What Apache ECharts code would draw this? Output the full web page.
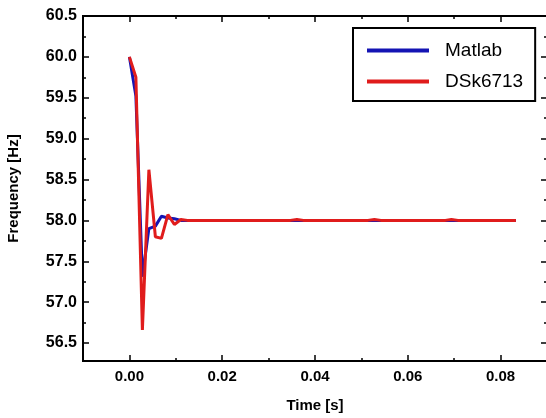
<!DOCTYPE html>
<html>
<head>
<meta charset="utf-8">
<script src="https://cdn.jsdelivr.net/npm/echarts@6/dist/echarts.min.js"></script>
<style>
html,body{margin:0;padding:0;background:#fff;}
#c{width:546px;height:418px;}
</style>
</head>
<body>
<div id="c"></div>
<script>
// ---- data ----
var times = [0, 0.0014, 0.0028, 0.0042, 0.0056, 0.0069, 0.0083, 0.0097, 0.0111, 0.0125, 0.0139,
             0.0347, 0.0361, 0.0375, 0.0514, 0.0528, 0.0542, 0.0681, 0.0694, 0.0708, 0.0833];
var matlab = [60.0, 59.52, 57.31, 57.90, 57.93, 58.05, 58.03, 58.02, 58.0, 58.0, 58.0,
              58.0, 58.0, 58.0, 58.0, 58.0, 58.0, 58.0, 58.0, 58.0, 58.0];
var dsk = [60.0, 59.75, 56.66, 58.62, 57.80, 57.78, 58.07, 57.95, 58.01, 58.0, 58.0,
           58.0, 58.012, 58.0, 58.0, 58.012, 58.0, 58.0, 58.012, 58.0, 58.0];
var seriesNames = ['Matlab', 'DSk6713'];
var xMajor = [0, 0.02, 0.04, 0.06, 0.08];
var xMinor = [-0.01, 0.01, 0.03, 0.05, 0.07, 0.09];
var yMajor = [56.5, 57.0, 57.5, 58.0, 58.5, 59.0, 59.5, 60.0, 60.5];
var yMinor = [56.75, 57.25, 57.75, 58.25, 58.75, 59.25, 59.75, 60.25];
var xRange = [-0.01, 0.09];
var yRange = [56.28, 60.5];

function pairs(xs, ys) { return xs.map(function (x, i) { return [x, ys[i]]; }); }

var font = 'Liberation Sans, Arial, sans-serif';
var axisLine = { show: true, onZero: false, lineStyle: { color: '#000', width: 2 } };
var noLine = { show: false, onZero: false };

function xAx(pos, ticks, len, labels, extra) {
  var o = {
    type: 'value', position: pos, min: xRange[0], max: xRange[1],
    axisLine: axisLine,
    splitLine: { show: false },
    axisTick: { show: true, inside: true, length: len, customValues: ticks, lineStyle: { color: '#000', width: 1.5 } },
    axisLabel: labels ? {
      show: true, customValues: xMajor, margin: 8, color: '#000', fontFamily: font, fontWeight: 'bold', fontSize: 15,
      formatter: function (v) { return v.toFixed(2); }
    } : { show: false }
  };
  for (var k in extra) o[k] = extra[k];
  return o;
}
function yAx(pos, ticks, len, labels, extra) {
  var o = {
    type: 'value', position: pos, min: yRange[0], max: yRange[1],
    axisLine: axisLine,
    splitLine: { show: false },
    axisTick: { show: true, inside: true, length: len, customValues: ticks, lineStyle: { color: '#000', width: 1.5 } },
    axisLabel: labels ? {
      show: true, customValues: yMajor, margin: 6, color: '#000', fontFamily: font, fontWeight: 'bold', fontSize: 16,
      formatter: function (v) { return v.toFixed(1); }
    } : { show: false }
  };
  for (var k in extra) o[k] = extra[k];
  return o;
}

var chart = echarts.init(document.getElementById('c'), null, { renderer: 'canvas' });
chart.setOption({
  animation: false,
  backgroundColor: '#fff',
  grid: { left: 83, top: 16, width: 464, height: 345, containLabel: false, outerBoundsMode: 'none' },
  legend: {
    orient: 'vertical', left: 353, top: 28,
    data: seriesNames,
    icon: 'rect', itemWidth: 62, itemHeight: 4, itemGap: 12,
    borderColor: '#000', borderWidth: 2, borderRadius: 0,
    padding: [13, 12, 10, 14],
    textStyle: { color: '#000', fontFamily: font, fontSize: 19, padding: [0, 0, 0, 11] }
  },
  xAxis: [
    xAx('bottom', xMajor, 6, true, {
      name: 'Time [s]', nameLocation: 'middle', nameGap: 37,
      nameTextStyle: { color: '#000', fontFamily: font, fontWeight: 'bold', fontSize: 15 }
    }),
    xAx('bottom', xMinor, 3, false, {}),
    xAx('top', xMajor, 6, false, {}),
    xAx('top', xMinor, 3, false, {})
  ],
  yAxis: [
    yAx('left', yMajor, 6, true, {
      name: 'Frequency [Hz]', nameLocation: 'middle', nameGap: 62, nameRotate: 90,
      nameTextStyle: { color: '#000', fontFamily: font, fontWeight: 'bold', fontSize: 15 }
    }),
    yAx('left', yMinor, 3, false, {}),
    yAx('right', yMajor, 6, false, { axisLine: noLine }),
    yAx('right', yMinor, 3, false, { axisLine: noLine })
  ],
  series: [
    {
      name: seriesNames[0], type: 'line', data: pairs(times, matlab),
      xAxisIndex: 0, yAxisIndex: 0, symbol: 'none', z: 2,
      lineStyle: { color: '#1414b4', width: 3 }, itemStyle: { color: '#1414b4' }
    },
    {
      name: seriesNames[1], type: 'line', data: pairs(times, dsk),
      xAxisIndex: 0, yAxisIndex: 0, symbol: 'none', z: 3,
      lineStyle: { color: '#e01c1c', width: 3 }, itemStyle: { color: '#e01c1c' }
    }
  ]
});
</script>
</body>
</html>
